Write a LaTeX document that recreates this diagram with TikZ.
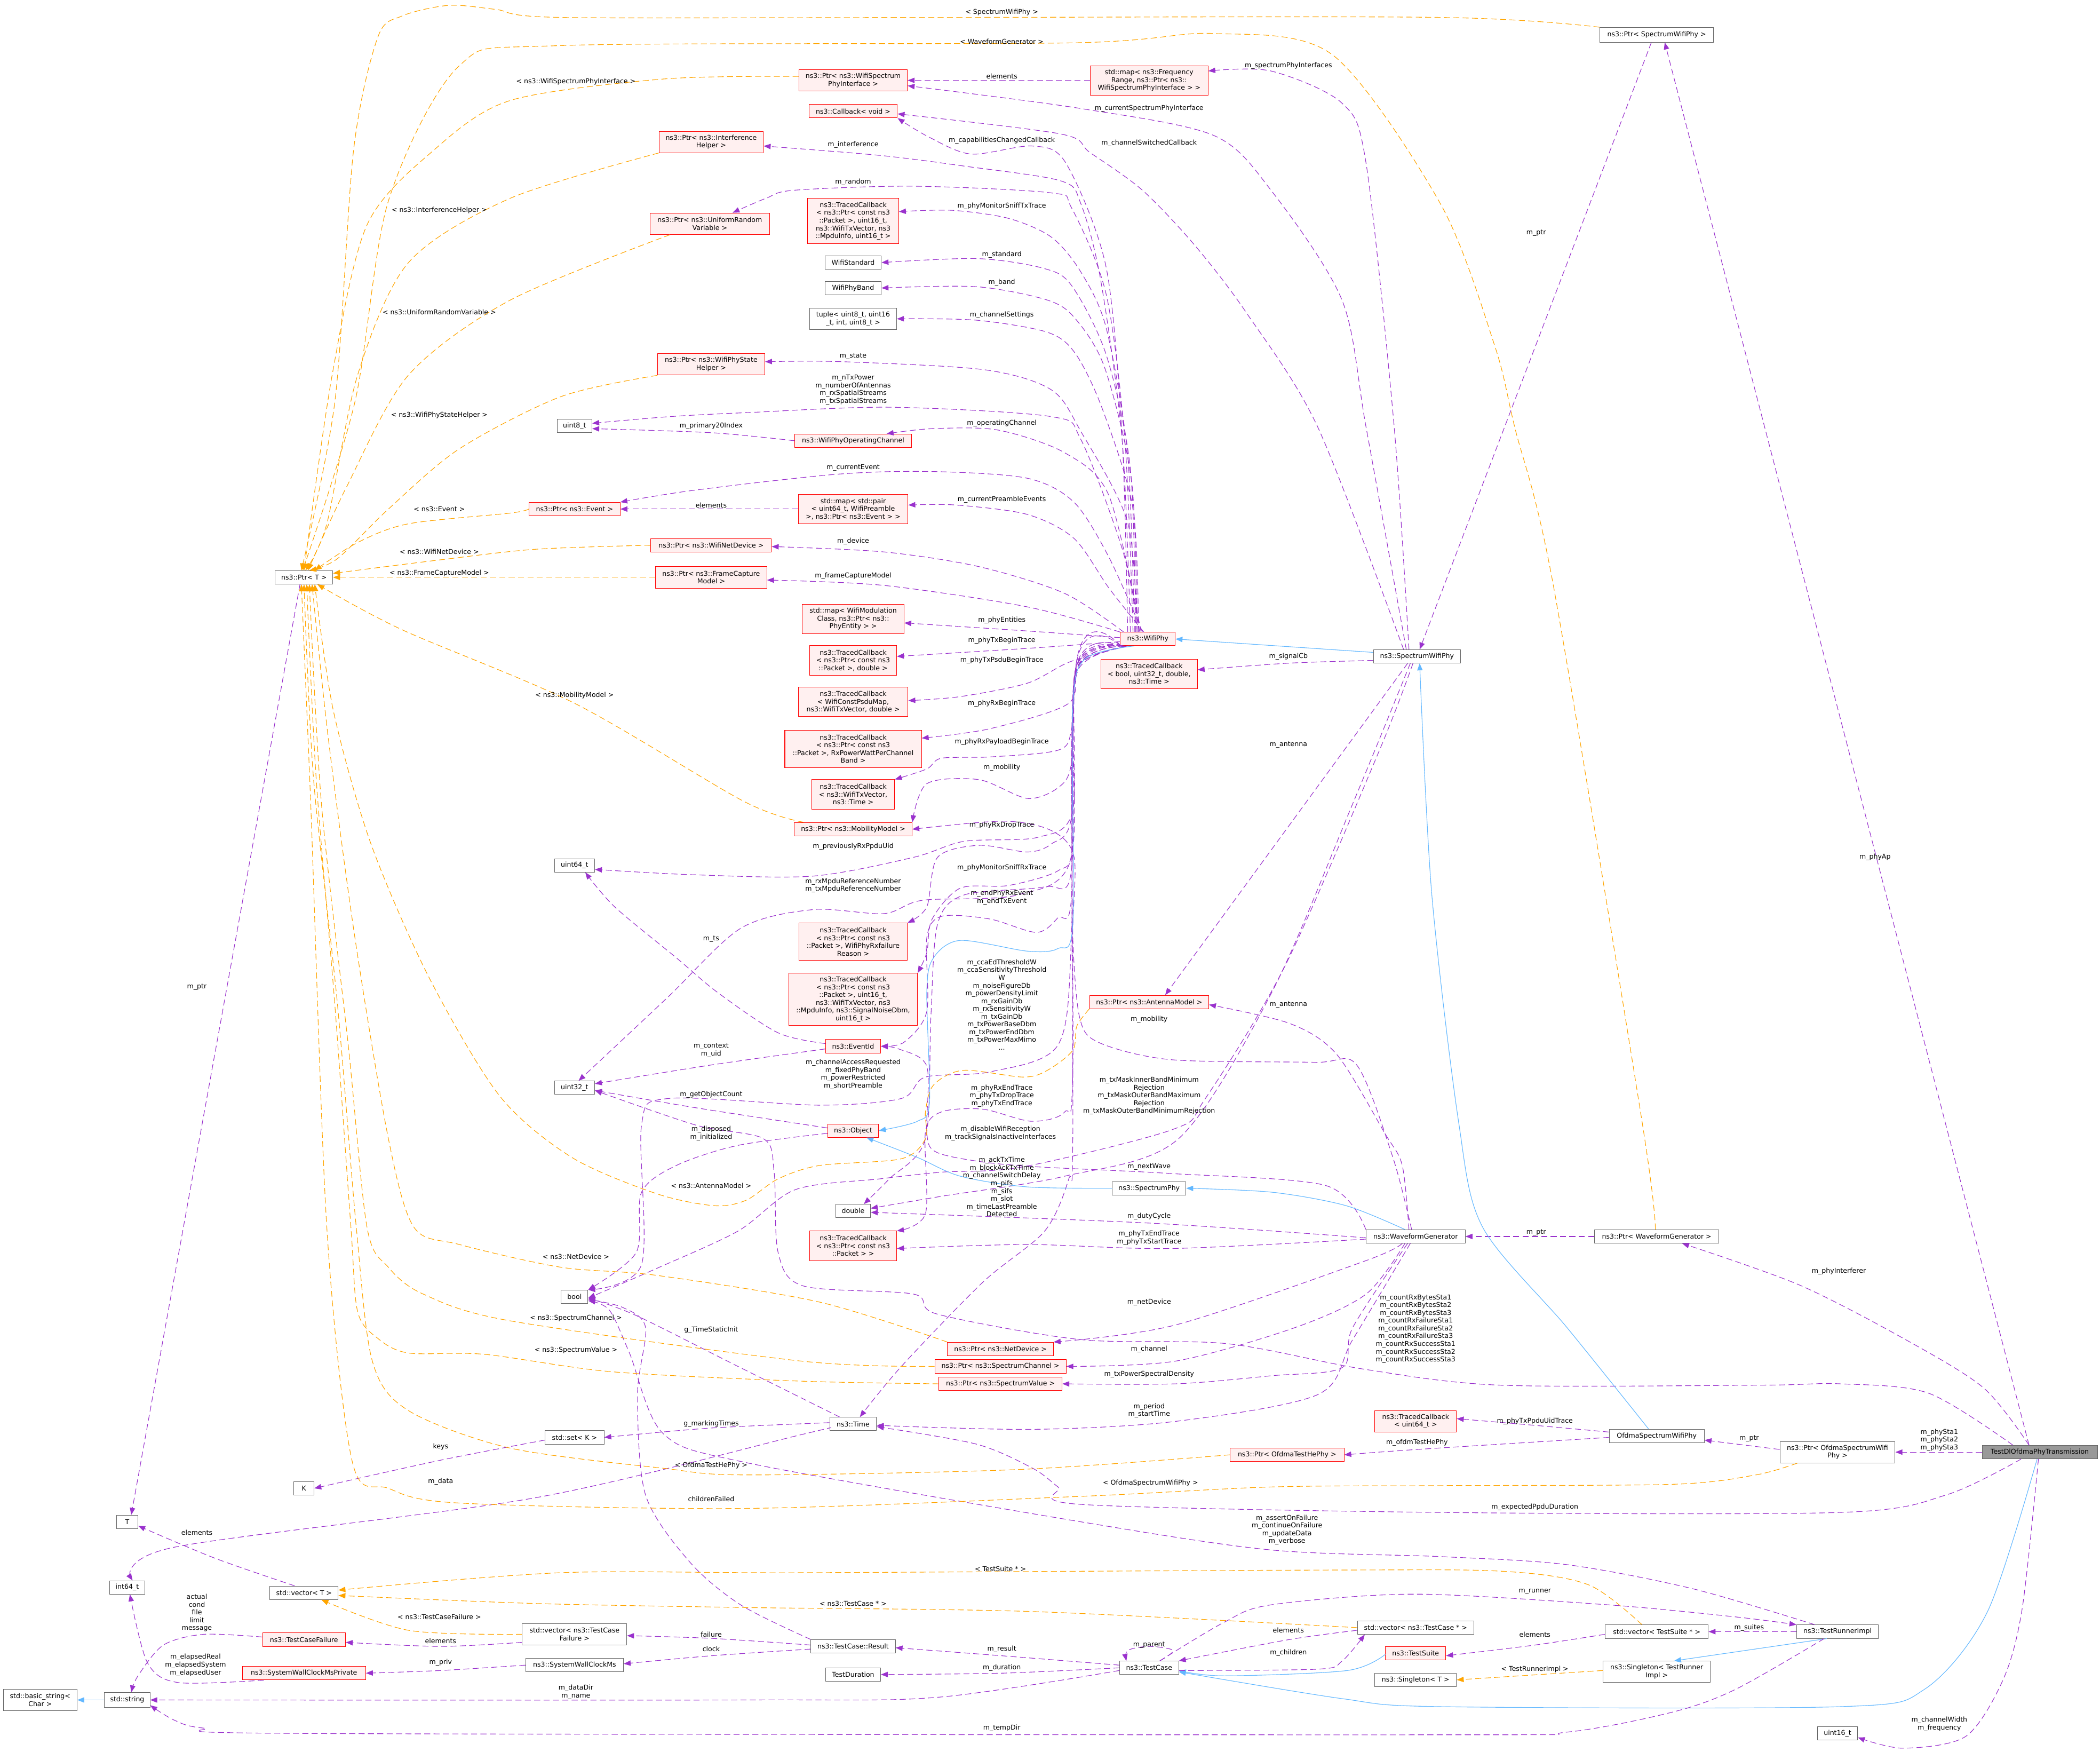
\documentclass[tikz,border=0pt]{standalone}
\usepackage{fontspec}
\setmainfont{DejaVu Sans}
\usetikzlibrary{arrows.meta}
\definecolor{purp}{HTML}{9A32CD}
\definecolor{orng}{HTML}{FFA500}
\definecolor{blu}{HTML}{63B8FF}
\definecolor{redb}{HTML}{FF0000}
\definecolor{redf}{HTML}{FFF0F0}
\definecolor{grayb}{HTML}{666666}
\definecolor{grayf}{HTML}{999999}
\newcommand\dfs{\fontsize{5}{5.8}\selectfont}
\tikzset{
 box/.style={draw=grayb,fill=white,line width=0.4pt,inner sep=0pt,align=center,font=\dfs},
 rbox/.style={box,draw=redb,fill=redf},
 gbox/.style={box,fill=grayf},
 lbl/.style={font=\dfs,align=center,inner sep=0pt},
 ebase/.style={line width=0.45pt,-{Triangle[length=5.2pt,width=4pt]}},
 mem/.style={ebase,draw=purp,dash pattern=on 4.5pt off 2.5pt},
 tpl/.style={ebase,draw=orng,dash pattern=on 4.5pt off 2.5pt},
 inh/.style={ebase,draw=blu},
}
\newcommand\mkn[7]{\node[#6,minimum width=#4pt,minimum height=#5pt] (#1) at (#2,#3) {#7};}
\newcounter{elabc}
\newcommand\elab[3]{\stepcounter{elabc}\node[lbl] (lab\arabic{elabc}) at (#1,#2) {#3};}
\begin{document}
\begin{tikzpicture}[x=1pt,y=-1pt]
\fill[white] (0,0) rectangle (1568,1307.5);
\useasboundingbox (0,0) rectangle (1568,1307.5);
% ---------------- nodes
\mkn{ptrT}{227}{431}{43}{10}{box}{ns3::Ptr< T >}
\mkn{T}{95}{1136}{16}{10}{box}{T}
\mkn{int64}{95}{1185}{26}{10}{box}{int64\_t}
\mkn{basicstr}{30}{1269}{55}{16}{box}{std::basic\_string<\\ Char >}
\mkn{stdstr}{95}{1269}{34}{11}{box}{std::string}
\mkn{tcfail}{227}{1224}{62}{10}{rbox}{ns3::TestCaseFailure}
\mkn{swcpriv}{227}{1249}{92}{10}{rbox}{ns3::SystemWallClockMsPrivate}
\mkn{vecT}{227}{1189}{51}{10}{box}{std::vector< T >}
\mkn{K}{227}{1111}{15}{10}{box}{K}
\mkn{bool}{429}{968}{20}{10}{box}{bool}
\mkn{setK}{429}{1073}{44}{10}{box}{std::set< K >}
\mkn{vecTCF}{429}{1220}{78}{16}{box}{std::vector< ns3::TestCase\\ Failure >}
\mkn{swc}{429}{1243}{73}{10}{box}{ns3::SystemWallClockMs}
\mkn{u8}{429}{318}{26}{10}{box}{uint8\_t}
\mkn{u64}{429}{646}{30}{10}{box}{uint64\_t}
\mkn{u32}{429}{812}{30}{10}{box}{uint32\_t}
\mkn{dbl}{637}{904}{26}{10}{box}{double}
\mkn{ptrIH}{531}{106}{78}{16}{rbox}{ns3::Ptr< ns3::Interference\\ Helper >}
\mkn{ptrURV}{530}{167}{89}{16}{rbox}{ns3::Ptr< ns3::UniformRandom\\ Variable >}
\mkn{ptrWPSH}{531}{272}{80}{16}{rbox}{ns3::Ptr< ns3::WifiPhyState\\ Helper >}
\mkn{ptrEv}{429}{380}{68}{10}{rbox}{ns3::Ptr< ns3::Event >}
\mkn{ptrWND}{531}{407}{90}{10}{rbox}{ns3::Ptr< ns3::WifiNetDevice >}
\mkn{ptrFCM}{531}{431}{83}{16}{rbox}{ns3::Ptr< ns3::FrameCapture\\ Model >}
\mkn{ptrWSPI}{637}{60}{81}{16}{rbox}{ns3::Ptr< ns3::WifiSpectrum\\ PhyInterface >}
\mkn{cbVoid}{637}{83}{66}{10}{rbox}{ns3::Callback< void >}
\mkn{mapFR}{858}{60}{88}{22}{rbox}{std::map< ns3::Frequency\\ Range, ns3::Ptr< ns3::\\ WifiSpectrumPhyInterface > >}
\mkn{tcSniffTx}{637}{165}{68}{34}{rbox}{ns3::TracedCallback\\ < ns3::Ptr< const ns3\\ ::Packet >, uint16\_t,\\ ns3::WifiTxVector, ns3\\ ::MpduInfo, uint16\_t >}
\mkn{wstd}{637}{196}{42}{10}{box}{WifiStandard}
\mkn{wband}{637}{215}{42}{10}{box}{WifiPhyBand}
\mkn{tuple}{637}{238}{65}{16}{box}{tuple< uint8\_t, uint16\\ \_t, int, uint8\_t >}
\mkn{wpoc}{637}{329}{87}{10}{rbox}{ns3::WifiPhyOperatingChannel}
\mkn{mapPair}{637}{380}{82}{22}{rbox}{std::map< std::pair\\ < uint64\_t, WifiPreamble\\ >, ns3::Ptr< ns3::Event > >}
\mkn{wifiphy}{857}{477}{41}{10}{rbox}{ns3::WifiPhy}
\mkn{mapPE}{637}{462}{76}{22}{rbox}{std::map< WifiModulation\\ Class, ns3::Ptr< ns3::\\ PhyEntity > >}
\mkn{tcTxBegin}{637}{493}{65}{22}{rbox}{ns3::TracedCallback\\ < ns3::Ptr< const ns3\\ ::Packet >, double >}
\mkn{tcPsdu}{637}{524}{82}{22}{rbox}{ns3::TracedCallback\\ < WifiConstPsduMap,\\ ns3::WifiTxVector, double >}
\mkn{tcSignal}{858}{503}{72}{22}{rbox}{ns3::TracedCallback\\ < bool, uint32\_t, double,\\ ns3::Time >}
\mkn{tcRxBegin}{637}{559}{102}{28}{rbox}{ns3::TracedCallback\\ < ns3::Ptr< const ns3\\ ::Packet >, RxPowerWattPerChannel\\ Band >}
\mkn{tcTxVec}{637}{593}{62}{22}{rbox}{ns3::TracedCallback\\ < ns3::WifiTxVector,\\ ns3::Time >}
\mkn{ptrMob}{637}{619}{88}{10}{rbox}{ns3::Ptr< ns3::MobilityModel >}
\mkn{swp}{1058}{490}{65}{10}{box}{ns3::SpectrumWifiPhy}
\mkn{tcRxFail}{637}{703}{81}{28}{rbox}{ns3::TracedCallback\\ < ns3::Ptr< const ns3\\ ::Packet >, WifiPhyRxfailure\\ Reason >}
\mkn{tcSniffRx}{637}{746}{96}{39}{rbox}{ns3::TracedCallback\\ < ns3::Ptr< const ns3\\ ::Packet >, uint16\_t,\\ ns3::WifiTxVector, ns3\\ ::MpduInfo, ns3::SignalNoiseDbm,\\ uint16\_t >}
\mkn{eventId}{637}{781}{41}{10}{rbox}{ns3::EventId}
\mkn{object}{637}{844}{38}{10}{rbox}{ns3::Object}
\mkn{ptrAnt}{858}{748}{89}{10}{rbox}{ns3::Ptr< ns3::AntennaModel >}
\mkn{spphy}{858}{887}{55}{10}{box}{ns3::SpectrumPhy}
\mkn{tcPkt}{637}{930}{65}{22}{rbox}{ns3::TracedCallback\\ < ns3::Ptr< const ns3\\ ::Packet > >}
\mkn{wg}{1057}{923}{74}{10}{box}{ns3::WaveformGenerator}
\mkn{ptrWG}{1237}{923}{93}{10}{box}{ns3::Ptr< WaveformGenerator >}
\mkn{ptrSWP}{1237}{26}{85}{11}{box}{ns3::Ptr< SpectrumWifiPhy >}
\mkn{ptrND}{747}{1007}{79}{10}{rbox}{ns3::Ptr< ns3::NetDevice >}
\mkn{ptrSC}{747}{1020}{98}{10}{rbox}{ns3::Ptr< ns3::SpectrumChannel >}
\mkn{ptrSV}{747}{1033}{92}{10}{rbox}{ns3::Ptr< ns3::SpectrumValue >}
\mkn{time}{637}{1063}{35}{10}{box}{ns3::Time}
\mkn{tcU64}{1057}{1061}{61}{16}{rbox}{ns3::TracedCallback\\ < uint64\_t >}
\mkn{ptrOTHP}{961}{1086}{85}{10}{rbox}{ns3::Ptr< OfdmaTestHePhy >}
\mkn{result}{637}{1229}{63}{10}{box}{ns3::TestCase::Result}
\mkn{tdur}{637}{1250}{41}{10}{box}{TestDuration}
\mkn{testcase}{858}{1245}{44}{10}{box}{ns3::TestCase}
\mkn{vecTCp}{1057}{1215}{87}{10}{box}{std::vector< ns3::TestCase * >}
\mkn{testsuite}{1057}{1234}{45}{10}{rbox}{ns3::TestSuite}
\mkn{singT}{1057}{1254}{61}{10}{box}{ns3::Singleton< T >}
\mkn{oswp}{1237}{1072}{71}{10}{box}{OfdmaSpectrumWifiPhy}
\mkn{ptrOSWP}{1372}{1084}{86}{16}{box}{ns3::Ptr< OfdmaSpectrumWifi\\ Phy >}
\mkn{testdl}{1523}{1084}{86}{10}{gbox}{TestDlOfdmaPhyTransmission}
\mkn{vecTS}{1237}{1218}{77}{10}{box}{std::vector< TestSuite * >}
\mkn{tri}{1372}{1218}{61}{10}{box}{ns3::TestRunnerImpl}
\mkn{singTRI}{1237}{1248}{80}{16}{box}{ns3::Singleton< TestRunner\\ Impl >}
\mkn{u16}{1372}{1294}{30}{10}{box}{uint16\_t}
% ---------------- WifiPhy members (upwards)
\draw[mem] plot[smooth] coordinates {([xshift=-15pt]wifiphy.north) (838,330) (826,200) (796,122) (771,109) (725,115) (693,102) (cbVoid.south east)};
\draw[mem] plot[smooth] coordinates {([xshift=-13pt]wifiphy.north) (838,330) (822,210) (807,152) (792,135) (720,124) (657,116) ([yshift=-3pt]ptrIH.east)};
\draw[mem] plot[smooth] coordinates {([xshift=-11pt]wifiphy.north) (840,330) (826,220) (800,155) (785,144) (682,139) (593,142) (572,148) ([xshift=17pt]ptrURV.north)};
\draw[mem] plot[smooth] coordinates {([xshift=-10pt]wifiphy.north) (842,340) (826,245) (807,203) (785,177) (753,163) (711,157) ([yshift=7pt]tcSniffTx.east)};
\draw[mem] plot[smooth] coordinates {([xshift=-9pt]wifiphy.north) (844,350) (826,265) (800,213) (778,200) (729,193) (wstd.east)};
\draw[mem] plot[smooth] coordinates {([xshift=-8pt]wifiphy.north) (845,360) (825,275) (803,238) (782,224) (729,214) (wband.east)};
\draw[mem] plot[smooth] coordinates {([xshift=-7pt]wifiphy.north) (846,380) (823,305) (803,264) (782,248) (729,239) (tuple.east)};
\draw[mem] plot[smooth] coordinates {([xshift=-8pt]wifiphy.north) (842,390) (807,322) (785,291) (735,276) (629,270) ([yshift=2pt]ptrWPSH.east)};
\draw[mem] plot[smooth] coordinates {([xshift=-6pt]wifiphy.north) (838,410) (807,328) (785,311) (665,304) (558,308) (500,311) ([yshift=2pt]u8.east)};
\draw[mem] plot[smooth] coordinates {([xshift=-5pt]wifiphy.north) (828,370) (795,338) (745,321) (696,320) ([xshift=25pt]wpoc.north)};
\draw[mem] plot[smooth] coordinates {([xshift=-4pt]wifiphy.north) (828,416) (802,375) (767,357) (696,352) (625,354) (518,366) (ptrEv.north east)};
\draw[mem] plot[smooth] coordinates {([xshift=-3pt]wifiphy.north) (828,439) (802,402) (767,384) (714,377) ([yshift=3pt]mapPair.east)};
\draw[mem] plot[smooth] coordinates {([xshift=-18pt]wifiphy.north) (795,443) (731,423) (660,412) ([yshift=-1pt]ptrWND.east)};
\draw[mem] plot[smooth] coordinates {(wifiphy.north west) (767,453) (660,437) ([yshift=-2pt]ptrFCM.east)};
\draw[mem] plot[smooth] coordinates {([yshift=1pt]wifiphy.west) (767,471) ([yshift=-3pt]mapPE.east)};
\draw[mem] plot[smooth] coordinates {([yshift=-2pt]wifiphy.west) (767,484) ([yshift=3pt]tcTxBegin.east)};
% ---------------- WifiPhy members (downwards)
\draw[mem] plot[smooth] coordinates {([xshift=-15pt]wifiphy.south) (799,494) (767,510) (717,520) ([yshift=1pt]tcPsdu.east)};
\draw[mem] plot[smooth] coordinates {([xshift=-16pt]wifiphy.south) (806,495) (798,525) (739,544) ([yshift=8pt]tcRxBegin.east)};
\draw[mem] plot[smooth] coordinates {([xshift=-16pt]wifiphy.south) (805,497) (800,545) (790,560) (740,565) (703,566) (692,574) (tcTxVec.north east)};
\draw[mem] plot[smooth] coordinates {([xshift=-17pt]wifiphy.south) (805,500) (800,570) (790,588) (767,596) (731,582) (692,585) (ptrMob.north east)};
\draw[mem] plot[smooth] coordinates {([xshift=-17pt]wifiphy.south) (804,500) (800,610) (785,630) (767,636) (731,631) (700,640) (692,677) (tcRxFail.north east)};
\draw[mem] plot[smooth] coordinates {([xshift=-18pt]wifiphy.south) (804,500) (801,605) (775,625) (720,628) (682,640) (607,654) (518,653) ([yshift=-3pt]u64.east)};
\draw[mem] plot[smooth] coordinates {([xshift=-18pt]wifiphy.south) (804,500) (801,630) (790,650) (753,661) (717,663) (696,686) (692,711) (tcSniffRx.north east)};
\draw[mem] plot[smooth] coordinates {([xshift=-18pt]wifiphy.south) (803,500) (800,640) (760,668) (689,672) (660,682) (607,679) (553,693) (498,745) ([xshift=3pt]u32.north)};
\draw[mem] plot[smooth] coordinates {([xshift=-19pt]wifiphy.south) (803,500) (800,670) (790,685) (774,696) (739,686) (703,684) (692,700) (692,755) (675,778) (eventId.east)};
\draw[mem] plot[smooth] coordinates {([xshift=-19pt]wifiphy.south) (803,500) (800,650) (780,662) (720,668) (700,690) (695,760) (691,850) (664,880) ([xshift=8pt]dbl.north)};
\draw[mem] plot[smooth] coordinates {([xshift=-19pt]wifiphy.south) (803,500) (800,700) (790,780) (740,800) (691,804) (673,820) (612,825) (499,820) (479,840) (479,944) (bool.north east)};
\draw[mem] plot[smooth] coordinates {([xshift=-20pt]wifiphy.south) (803,500) (801,800) (795,830) (770,837) (734,828) (703,830) (691,845) (691,906) (tcPkt.north east)};
\draw[mem] plot[smooth] coordinates {([xshift=-20pt]wifiphy.south) (803,500) (801,850) (798,880) (780,919) (734,957) (673,1020) ([xshift=5pt]time.north)};
% ---------------- SpectrumWifiPhy members
\draw[mem] plot[smooth] coordinates {([xshift=-6pt]swp.north) (1041,319) (1020,122) (1002,77) (949,53) ([yshift=7pt]mapFR.east)};
\draw[mem] plot[smooth] coordinates {([xshift=-8pt]swp.north) (1020,319) (1002,224) (949,142) (906,101) (807,81) ([yshift=-4pt]ptrWSPI.east)};
\draw[mem] plot[smooth] coordinates {([xshift=-10pt]swp.north) (984,319) (931,234) (892,183) (853,142) (814,114) (792,100) ([yshift=-2pt]cbVoid.east)};
\draw[mem] plot[smooth] coordinates {([yshift=-3pt]swp.west) (963,495) ([yshift=3pt]tcSignal.east)};
\draw[mem] ([xshift=-7pt]swp.south) -- ([xshift=12pt]ptrAnt.north);
\draw[mem] plot[smooth] coordinates {([xshift=-5pt]swp.south) (1010,600) (950,740) (880,850) (795,878) (703,893) ([yshift=2pt]dbl.east)};
\draw[mem] plot[smooth] coordinates {([xshift=-3pt]swp.south) (1030,560) (960,720) (900,820) (876,843) (764,871) (703,875) (657,880) (594,888) (551,919) (490,947) ([yshift=-1pt]bool.east)};
\draw[mem] ([xshift=-4pt]ptrSWP.south) -- ([xshift=2pt]swp.north);
% ---------------- WaveformGenerator members
\draw[mem] plot[smooth] coordinates {([xshift=-5pt]wg.north) (1047,870) (1034,846) (998,787) (963,764) ([yshift=-2pt]ptrAnt.east)};
\draw[mem] plot[smooth] coordinates {([xshift=-3pt]wg.north) (1040,864) (1013,795) (981,793) (874,791) (820,778) (806,759) (801,700) (802,640) (785,620) (749,613) (ptrMob.east)};
\draw[mem] plot[smooth] coordinates {(wg.north west) (990,885) (874,876) (774,871) (731,867) (699,860) (692,846) (692,796) (671,783) (eventId.east)};
\draw[mem] plot[smooth] coordinates {([yshift=-1pt]wg.west) (858,913) ([yshift=-1pt]dbl.east)};
\draw[mem] plot[smooth] coordinates {([yshift=-2pt]wg.west) (874,932) (767,929) ([yshift=-2pt]tcPkt.east)};
\draw[mem] plot[smooth] coordinates {([xshift=-10pt]wg.south) (1020,941) (878,989) (ptrND.north east)};
\draw[mem] plot[smooth] coordinates {([xshift=-8pt]wg.south) (1020,966) (967,991) (878,1016) (ptrSC.east)};
\draw[mem] plot[smooth] coordinates {([xshift=-6pt]wg.south) (1010,991) (1002,1021) (949,1027) (878,1033) (ptrSV.east)};
\draw[mem] plot[smooth] coordinates {([xshift=-4pt]wg.south) (1010,1000) (984,1041) (878,1061) (771,1067) ([yshift=-1pt]time.east)};
\draw[mem] (ptrWG.west) -- (wg.east);
% ---------------- TestDlOfdmaPhyTransmission members
\draw[mem] ([xshift=-8pt]testdl.north) -- ([xshift=6pt]ptrSWP.south);
\draw[mem] plot[smooth] coordinates {([xshift=-8pt]testdl.north) (1481,1036) (1421,999) (1343,959) ([xshift=19pt]ptrWG.south)};
\draw[mem] plot[smooth] coordinates {([xshift=-20pt]testdl.north) (1440,1040) (1374,1033) (1315,1034) (1120,1034) (1018,1022) (916,1003) (807,1000) (700,981) (682,966) (600,960) (581,935) (578,875) (570,850) (520,840) ([yshift=-2pt]u32.east)};
\draw[mem] (testdl.west) -- (ptrOSWP.east);
\draw[mem] plot[smooth] coordinates {([xshift=-14pt]testdl.south) (1453,1116) (1374,1129) (1076,1129) (807,1123) (790,1110) (771,1096) (729,1078) ([yshift=-2pt]time.east)};
\draw[mem] plot[smooth] coordinates {([xshift=-1pt]testdl.south) (1510,1200) (1496,1253) (1468,1296) (1421,1305) ([yshift=-3pt]u16.east)};
\draw[inh] plot[smooth] coordinates {([xshift=-2pt]testdl.south) (1484,1203) (1437,1261) (1374,1274) (1076,1274) (1002,1268) ([yshift=-3pt]testcase.east)};
% ---------------- OfdmaSpectrumWifiPhy
\draw[mem] ([yshift=2pt]ptrOSWP.west) -- ([yshift=-3pt]oswp.east);
\draw[mem] plot[smooth] coordinates {([yshift=3pt]oswp.west) (1146,1064) ([yshift=2pt]tcU64.east)};
\draw[mem] plot[smooth] coordinates {([yshift=-1pt]oswp.west) (1058,1082) (ptrOTHP.east)};
\draw[inh] plot[smooth] coordinates {([xshift=-6pt]oswp.north) (1170,991) (1107,916) (1089,837) (1069,667) ([xshift=2pt]swp.south)};
% ---------------- inheritance
\draw[inh] ([yshift=3pt]swp.west) -- (wifiphy.east);
\draw[inh] plot[smooth] coordinates {([xshift=-10pt]wifiphy.south) (810,492) (801,530) (801,690) (790,708) (767,710) (717,702) (697,715) (692,740) (694,823) (685,837) (object.east)};
\draw[inh] plot[smooth] coordinates {(spphy.west) (767,886) (717,878) (685,864) ([xshift=10pt]object.south)};
\draw[inh] plot[smooth] coordinates {([xshift=-8pt]wg.north) (1005,900) (950,890) (spphy.east)};
\draw[inh] (stdstr.west) -- (basicstr.east);
\draw[inh] plot[smooth] coordinates {([yshift=-1pt]testsuite.west) (1006,1247) (914,1251) ([yshift=-2pt]testcase.east)};
\draw[inh] ([xshift=-8pt]tri.south) -- ([xshift=13pt]singTRI.north);
% ---------------- test framework
\draw[tpl] ([yshift=1pt]singTRI.west) -- (singT.east);
\draw[mem] (tri.west) -- (vecTS.east);
\draw[mem] plot[smooth] coordinates {([yshift=-2pt]vecTS.west) (1146,1228) ([yshift=-2pt]testsuite.east)};
\draw[tpl] plot[smooth] coordinates {([xshift=-11pt]vecTS.north) (1186,1183) (1123,1173) (1000,1172) (598,1174) (419,1174) ([yshift=2pt]vecT.east)};
\draw[mem] plot[smooth] coordinates {([xshift=-17pt]tri.north) (1264,1186) (1170,1168) (1076,1162) (949,1157) (807,1136) (558,1092) (495,1070) (470,1010) (455,978) ([yshift=-3pt]bool.east)};
\draw[mem] plot[smooth] coordinates {([xshift=8pt]testcase.north) (914,1211) (949,1198) (1056,1190) (1201,1198) (1296,1207) (tri.north west)};
\draw[mem] plot[smooth] coordinates {([yshift=-2pt]testcase.east) (984,1246) (1002,1240) ([xshift=-38pt]vecTCp.south)};
\draw[mem] plot[smooth] coordinates {([yshift=-2pt]vecTCp.west) (962,1224) (testcase.north east)};
\draw[mem] plot[smooth] coordinates {([xshift=8pt]testcase.north) (876,1232) (858,1229) (842,1232) ([xshift=-17pt]testcase.north)};
\draw[mem] plot[smooth] coordinates {([yshift=2pt]testcase.west) (748,1236) ([yshift=-1pt]result.east)};
\draw[mem] plot[smooth] coordinates {(testcase.west) (748,1249) (tdur.east)};
\draw[mem] plot[smooth] coordinates {([yshift=-2pt]testcase.west) (700,1267) (558,1269) (stdstr.east)};
\draw[mem] plot[smooth] coordinates {([xshift=-10pt]tri.south) (1296,1261) (1249,1278) (1170,1293) (1076,1295) (229,1294) (152,1290) (130,1284) ([yshift=-4pt]stdstr.east)};
\draw[mem] plot[smooth] coordinates {([yshift=1pt]result.west) (531,1223) ([yshift=-1pt]vecTCF.east)};
\draw[mem] plot[smooth] coordinates {([yshift=-2pt]result.west) (531,1236) ([yshift=1pt]swc.east)};
\draw[mem] plot[smooth] coordinates {(result.north west) (553,1198) (515,1166) (482,1116) (476,1041) (482,991) (465,976) ([yshift=-2pt]bool.east)};
\draw[mem] plot[smooth] coordinates {(swc.west) (329,1247) (swcpriv.east)};
\draw[mem] plot[smooth] coordinates {([yshift=-6pt]vecTCF.west) (329,1229) ([yshift=-2pt]tcfail.east)};
\draw[tpl] plot[smooth] coordinates {(vecTCF.west) (305,1217) ([xshift=13pt]vecT.south)};
\draw[tpl] plot[smooth] coordinates {(vecTCp.west) (771,1203) (558,1200) (400,1197) ([yshift=-2pt]vecT.east)};
\draw[mem] plot[smooth] coordinates {([xshift=-7pt]vecT.north) (160,1163) ([yshift=-3pt]T.east)};
\draw[mem] plot[smooth] coordinates {([yshift=2pt]tcfail.west) (152,1220) (122,1228) (103,1251) ([xshift=3pt]stdstr.north)};
\draw[mem] plot[smooth] coordinates {([xshift=-30pt]swcpriv.south) (133,1256) (110,1241) ([xshift=2pt]int64.south)};
\draw[mem] ([xshift=-3pt]ptrT.south) -- ([xshift=3pt]T.north);
\draw[mem] plot[smooth] coordinates {([yshift=-3pt]time.west) (598,1071) (400,1118) (130,1155) ([xshift=4pt]int64.north)};
\draw[mem] plot[smooth] coordinates {([yshift=-2pt]setK.west) (329,1090) (K.east)};
\draw[mem] plot[smooth] coordinates {([yshift=1pt]time.west) (531,1066) (setK.east)};
\draw[mem] plot[smooth] coordinates {([xshift=-10pt]time.north) (551,1020) (475,982) ([yshift=-1pt]bool.east)};
\draw[mem] plot[smooth] coordinates {([yshift=-2pt]object.west) (551,855) (505,870) (479,890) (475,935) (bool.north east)};
\draw[mem] plot[smooth] coordinates {([yshift=2pt]object.west) (520,827) ([yshift=-2pt]u32.east)};
\draw[mem] plot[smooth] coordinates {([yshift=-2pt]eventId.west) (531,795) ([yshift=3pt]u32.east)};
\draw[mem] plot[smooth] coordinates {([yshift=2pt]eventId.west) (581,771) (536,741) (505,715) (459,677) ([xshift=8pt]u64.south)};
\draw[mem] plot[smooth] coordinates {(wpoc.west) (531,323) ([yshift=-2pt]u8.east)};
\draw[mem] (mapFR.west) -- (ptrWSPI.east);
\draw[mem] (mapPair.west) -- (ptrEv.east);
% ---------------- templates into Ptr<T>
\draw[tpl] plot[smooth] coordinates {(ptrSWP.north west) (1076,13) (700,13) (419,13) (370,7) (335,4) (300,12) (282,28) (264,112) (250,300) ([xshift=-2pt]ptrT.north)};
\draw[tpl] plot[smooth] coordinates {([xshift=-1pt]ptrWG.north) (1226,837) (1160,438) (1131,319) (1116,258) (1076,153) (995,41) (906,25) (800,32) (419,34) (343,49) (290,150) (265,300) ([xshift=-1pt]ptrT.north)};
\draw[tpl] plot[smooth] coordinates {([yshift=3pt]ptrWSPI.west) (495,59) (381,75) (324,112) (274,168) (248,280) (ptrT.north)};
\draw[tpl] plot[smooth] coordinates {(ptrIH.south west) (381,148) (305,196) (267,280) (244,391) ([xshift=1pt]ptrT.north)};
\draw[tpl] plot[smooth] coordinates {([xshift=15pt]ptrURV.south west) (381,224) (305,280) (259,363) ([xshift=3pt]ptrT.north)};
\draw[tpl] plot[smooth] coordinates {(ptrWPSH.south west) (419,296) (343,335) (290,380) (252,417) ([xshift=4pt]ptrT.north)};
\draw[tpl] plot[smooth] coordinates {(ptrEv.west) (381,383) (305,391) (267,405) ([xshift=8pt]ptrT.north)};
\draw[tpl] plot[smooth] coordinates {(ptrWND.west) (400,410) (328,418) ([yshift=3pt]ptrT.east)};
\draw[tpl] (ptrFCM.west) -- (ptrT.east);
\draw[tpl] plot[smooth] coordinates {([xshift=-37pt]ptrMob.north) (555,598) (429,525) (300,470) ([xshift=10pt]ptrT.south)};
\draw[tpl] plot[smooth] coordinates {(ptrAnt.south west) (804,766) (801,784) (782,799) (764,804) (719,799) (697,810) (691,830) (691,850) (673,865) (612,870) (581,880) (557,896) (533,900) (490,891) (427,864) (373,818) (320,729) (277,630) (249,531) ([xshift=8pt]ptrT.south)};
\draw[tpl] plot[smooth] coordinates {(ptrND.north west) (612,972) (490,952) (419,946) (343,929) (309,916) (290,850) (265,700) (245,550) ([xshift=6pt]ptrT.south)};
\draw[tpl] plot[smooth] coordinates {(ptrSC.west) (598,1016) (381,986) (316,966) (290,946) (274,916) (260,780) (240,600) ([xshift=4pt]ptrT.south)};
\draw[tpl] plot[smooth] coordinates {(ptrSV.west) (598,1031) (457,1024) (362,1011) (305,1010) (282,999) (267,979) (262,916) (250,750) (236,580) ([xshift=2pt]ptrT.south)};
\draw[tpl] plot[smooth] coordinates {(ptrOTHP.west) (760,1097) (558,1101) (495,1096) (381,1081) (305,1053) (278,1016) (266,916) (252,750) (234,580) (ptrT.south)};
\draw[tpl] plot[smooth] coordinates {([xshift=-30pt]ptrOSWP.south) (1311,1101) (1249,1108) (1076,1109) (949,1110) (807,1117) (558,1126) (343,1122) (290,1111) (263,1091) (244,916) (232,600) ([xshift=-2pt]ptrT.south)};
% ---------------- labels (orange)
\elab{748}{9}{< SpectrumWifiPhy >}
\elab{748}{31}{< WaveformGenerator >}
\elab{430}{61}{< ns3::WifiSpectrumPhyInterface >}
\elab{328}{157}{< ns3::InterferenceHelper >}
\elab{328}{233}{< ns3::UniformRandomVariable >}
\elab{328}{310}{< ns3::WifiPhyStateHelper >}
\elab{328}{380}{< ns3::Event >}
\elab{328}{412}{< ns3::WifiNetDevice >}
\elab{328}{428}{< ns3::FrameCaptureModel >}
\elab{429}{519}{< ns3::MobilityModel >}
\elab{531}{885}{< ns3::AntennaModel >}
\elab{430}{938}{< ns3::NetDevice >}
\elab{430}{984}{< ns3::SpectrumChannel >}
\elab{430}{1008}{< ns3::SpectrumValue >}
\elab{531}{1094}{< OfdmaTestHePhy >}
\elab{859}{1107}{< OfdmaSpectrumWifiPhy >}
\elab{747}{1171}{< TestSuite * >}
\elab{637}{1197}{< ns3::TestCase * >}
\elab{328}{1207}{< ns3::TestCaseFailure >}
\elab{1146}{1246}{< TestRunnerImpl >}
% ---------------- labels (members)
\elab{748}{57}{elements}
\elab{962}{49}{m\_spectrumPhyInterfaces}
\elab{858}{81}{m\_currentSpectrumPhyInterface}
\elab{748}{105}{m\_capabilitiesChangedCallback}
\elab{858}{107}{m\_channelSwitchedCallback}
\elab{637}{108}{m\_interference}
\elab{637}{136}{m\_random}
\elab{748}{154}{m\_phyMonitorSniffTxTrace}
\elab{748}{190}{m\_standard}
\elab{748}{211}{m\_band}
\elab{748}{235}{m\_channelSettings}
\elab{637}{266}{m\_state}
\elab{637}{291}{m\_nTxPower\\m\_numberOfAntennas\\m\_rxSpatialStreams\\m\_txSpatialStreams}
\elab{531}{318}{m\_primary20Index}
\elab{748}{316}{m\_operatingChannel}
\elab{637}{349}{m\_currentEvent}
\elab{531}{377}{elements}
\elab{748}{373}{m\_currentPreambleEvents}
\elab{637}{404}{m\_device}
\elab{637}{430}{m\_frameCaptureModel}
\elab{748}{463}{m\_phyEntities}
\elab{748}{478}{m\_phyTxBeginTrace}
\elab{748}{493}{m\_phyTxPsduBeginTrace}
\elab{748}{525}{m\_phyRxBeginTrace}
\elab{748}{554}{m\_phyRxPayloadBeginTrace}
\elab{748}{573}{m\_mobility}
\elab{748}{616}{m\_phyRxDropTrace}
\elab{637}{632}{m\_previouslyRxPpduUid}
\elab{748}{648}{m\_phyMonitorSniffRxTrace}
\elab{637}{661}{m\_rxMpduReferenceNumber\\m\_txMpduReferenceNumber}
\elab{748}{670}{m\_endPhyRxEvent\\m\_endTxEvent}
\elab{531}{701}{m\_ts}
\elab{748}{750}{m\_ccaEdThresholdW\\m\_ccaSensitivityThreshold\\W\\m\_noiseFigureDb\\m\_powerDensityLimit\\m\_rxGainDb\\m\_rxSensitivityW\\m\_txGainDb\\m\_txPowerBaseDbm\\m\_txPowerEndDbm\\m\_txPowerMaxMimo\\...}
\elab{531}{784}{m\_context\\m\_uid}
\elab{637}{802}{m\_channelAccessRequested\\m\_fixedPhyBand\\m\_powerRestricted\\m\_shortPreamble}
\elab{531}{817}{m\_getObjectCount}
\elab{748}{818}{m\_phyRxEndTrace\\m\_phyTxDropTrace\\m\_phyTxEndTrace}
\elab{531}{846}{m\_disposed\\m\_initialized}
\elab{747}{846}{m\_disableWifiReception\\m\_trackSignalsInactiveInterfaces}
\elab{748}{886}{m\_ackTxTime\\m\_blockAckTxTime\\m\_channelSwitchDelay\\m\_pifs\\m\_sifs\\m\_slot\\m\_timeLastPreamble\\Detected}
\elab{858}{818}{m\_txMaskInnerBandMinimum\\Rejection\\m\_txMaskOuterBandMaximum\\Rejection\\m\_txMaskOuterBandMinimumRejection}
\elab{962}{490}{m\_signalCb}
\elab{962}{556}{m\_antenna}
\elab{962}{750}{m\_antenna}
\elab{858}{761}{m\_mobility}
\elab{858}{871}{m\_nextWave}
\elab{858}{908}{m\_dutyCycle}
\elab{858}{924}{m\_phyTxEndTrace\\m\_phyTxStartTrace}
\elab{858}{972}{m\_netDevice}
\elab{858}{1007}{m\_channel}
\elab{858}{1026}{m\_txPowerSpectralDensity}
\elab{858}{1053}{m\_period\\m\_startTime}
\elab{1057}{992}{m\_countRxBytesSta1\\m\_countRxBytesSta2\\m\_countRxBytesSta3\\m\_countRxFailureSta1\\m\_countRxFailureSta2\\m\_countRxFailureSta3\\m\_countRxSuccessSta1\\m\_countRxSuccessSta2\\m\_countRxSuccessSta3}
\elab{1147}{920}{m\_ptr}
\elab{1147}{174}{m\_ptr}
\elab{1400}{640}{m\_phyAp}
\elab{1373}{949}{m\_phyInterferer}
\elab{1146}{1061}{m\_phyTxPpduUidTrace}
\elab{1058}{1077}{m\_ofdmTestHePhy}
\elab{1306}{1074}{m\_ptr}
\elab{1448}{1075}{m\_phySta1\\m\_phySta2\\m\_phySta3}
\elab{1146}{1125}{m\_expectedPpduDuration}
\elab{961}{1142}{m\_assertOnFailure\\m\_continueOnFailure\\m\_updateData\\m\_verbose}
\elab{1146}{1188}{m\_runner}
\elab{1306}{1215}{m\_suites}
\elab{1146}{1220}{elements}
\elab{962}{1217}{elements}
\elab{962}{1234}{m\_children}
\elab{858}{1228}{m\_parent}
\elab{748}{1231}{m\_result}
\elab{748}{1245}{m\_duration}
\elab{531}{1220}{failure}
\elab{531}{1231}{clock}
\elab{329}{1241}{m\_priv}
\elab{329}{1225}{elements}
\elab{1448}{1287}{m\_channelWidth\\m\_frequency}
\elab{531}{1063}{g\_markingTimes}
\elab{531}{993}{g\_TimeStaticInit}
\elab{531}{1119}{childrenFailed}
\elab{329}{1080}{keys}
\elab{329}{1106}{m\_data}
\elab{147}{1144}{elements}
\elab{147}{737}{m\_ptr}
\elab{147}{1204}{actual\\cond\\file\\limit\\message}
\elab{146}{1243}{m\_elapsedReal\\m\_elapsedSystem\\m\_elapsedUser}
\elab{430}{1263}{m\_dataDir\\m\_name}
\elab{748}{1290}{m\_tempDir}
\end{tikzpicture}
\end{document}
